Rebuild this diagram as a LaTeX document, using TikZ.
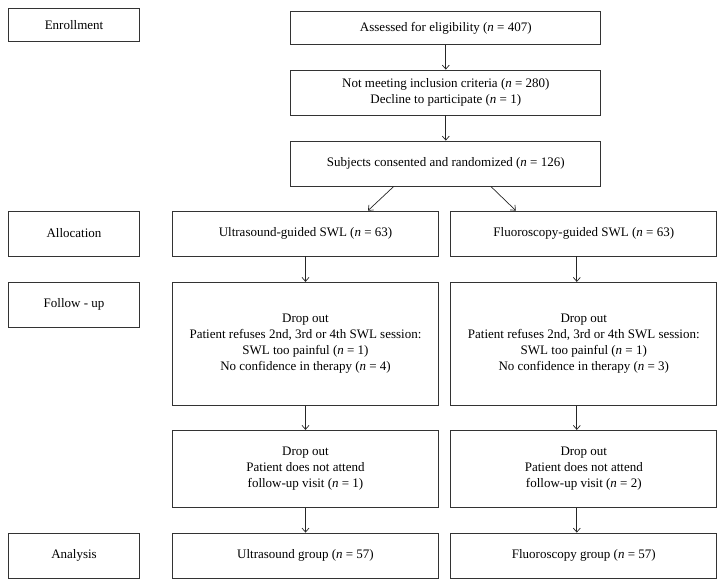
\documentclass[tikz,border=0pt]{standalone}
\usepackage{fontspec}
\setmainfont{Liberation Serif}
\usetikzlibrary{arrows.meta}
\begin{document}
\begin{tikzpicture}[x=1pt,y=-1pt,
    box/.style={draw=black!80,line width=.8pt,align=center,inner sep=0pt,font=\fontsize{13}{16}\selectfont},
    side/.style={box,minimum width=131pt,minimum height=45pt},
    mid/.style={box,minimum width=310pt,minimum height=45pt},
    arm/.style={box,minimum width=266pt},
    arr/.style={draw=black!85,line width=.7pt,-{Straight Barb[length=4pt,width=7pt]}}]
    \useasboundingbox (0,0) rectangle (725,587);
    \node[side,minimum height=33.4pt] (enroll) at (74,25) {Enrollment};
    \node[mid,minimum height=32.7pt] (assess) at (445.8,27.9) {Assessed for eligibility (\textit{n} = 407)};
    \node[mid] (notmeet) at (445.8,92.5) {Not meeting inclusion criteria (\textit{n} = 280)\\Decline to participate (\textit{n} = 1)};
    \node[mid] (subj) at (445.8,163.5) {Subjects consented and randomized (\textit{n} = 126)};
    \node[side] (alloc) at (74,233.5) {Allocation};
    \node[arm,minimum height=45pt] (us) at (305.5,233.5) {Ultrasound-guided SWL (\textit{n} = 63)};
    \node[arm,minimum height=45pt] (fl) at (583.8,233.5) {Fluoroscopy-guided SWL (\textit{n} = 63)};
    \node[side] (follow) at (74,304.8) {Follow - up};
    \node[arm,minimum height=123pt] (usdrop) at (305.5,343.8) {Drop out\\Patient refuses 2nd, 3rd or 4th SWL session:\\SWL too painful (\textit{n} = 1)\\No confidence in therapy (\textit{n} = 4)};
    \node[arm,minimum height=123pt] (fldrop) at (583.8,343.8) {Drop out\\Patient refuses 2nd, 3rd or 4th SWL session:\\SWL too painful (\textit{n} = 1)\\No confidence in therapy (\textit{n} = 3)};
    \node[arm,minimum height=77.4pt] (usvisit) at (305.5,469) {Drop out\\Patient does not attend\\follow-up visit (\textit{n} = 1)};
    \node[arm,minimum height=77.4pt] (flvisit) at (583.8,469) {Drop out\\Patient does not attend\\follow-up visit (\textit{n} = 2)};
    \node[side] (analysis) at (74,555.5) {Analysis};
    \node[arm,minimum height=45pt] (usgroup) at (305.5,555.5) {Ultrasound group (\textit{n} = 57)};
    \node[arm,minimum height=45pt] (flgroup) at (583.8,555.5) {Fluoroscopy group (\textit{n} = 57)};
    \draw[arr] (assess) -- (notmeet);
    \draw[arr] (notmeet) -- (subj);
    \draw[arr] ([xshift=-52pt]subj.south) -- ([xshift=62.5pt]us.north);
    \draw[arr] ([xshift=45pt]subj.south) -- ([xshift=-68pt]fl.north);
    \draw[arr] (us) -- (usdrop);
    \draw[arr] (usdrop) -- (usvisit);
    \draw[arr] (usvisit) -- (usgroup);
    \draw[arr] ([xshift=-7pt]fl.south) -- ([xshift=-7pt]fldrop.north);
    \draw[arr] ([xshift=-7pt]fldrop.south) -- ([xshift=-7pt]flvisit.north);
    \draw[arr] ([xshift=-7pt]flvisit.south) -- ([xshift=-7pt]flgroup.north);
\end{tikzpicture}
\end{document}
